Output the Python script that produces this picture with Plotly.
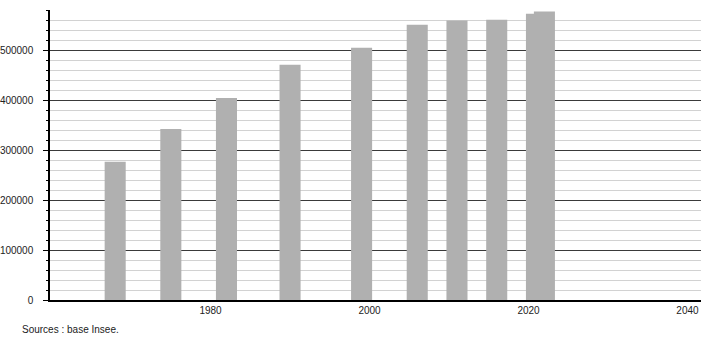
import plotly.graph_objects as go

years = [1968, 1975, 1982, 1990, 1999, 2006, 2011, 2016, 2021, 2022]
population = [276600, 342000, 404000, 470600, 504600, 550600, 559200, 560600, 572600, 577200]
x_ticks = [1980, 2000, 2020, 2040]
y_ticks = [0, 100000, 200000, 300000, 400000, 500000]
source_text = "Sources : base Insee."

FONT = "Liberation Sans, Arial, sans-serif"

fig = go.Figure()
for yr, val in zip(years, population):
    fig.add_trace(go.Bar(x=[yr], y=[val], width=2.65, marker=dict(color="#b0b0b0", line=dict(width=0)),
                         showlegend=False, hoverinfo="skip"))

fig.update_layout(
    width=710, height=340,
    margin=dict(l=50, r=9, t=10, b=40),
    paper_bgcolor="white", plot_bgcolor="white",
    barmode="overlay",
    font=dict(family=FONT, size=10, color="#222"),
    xaxis=dict(range=[1959.8, 2041.7], tickvals=x_ticks, ticktext=[str(t) for t in x_ticks],
               showgrid=False, zeroline=False, showline=True, linecolor="black", linewidth=1.5,
               ticks="", automargin=False, tickfont=dict(size=10, color="#222")),
    yaxis=dict(range=[0, 580000], tickvals=y_ticks, ticktext=[str(t) for t in y_ticks],
               showgrid=True, gridcolor="#3a3a3a", gridwidth=1,
               zeroline=False, showline=True, linecolor="black", linewidth=1.5,
               ticks="outside", ticklen=5, tickcolor="black", tickwidth=1,
               ticklabelstandoff=8, automargin=False,
               minor=dict(dtick=20000, tick0=0, showgrid=True, gridcolor="#d2d2d2", gridwidth=1,
                          ticks="outside", ticklen=2, tickcolor="black")),
    annotations=[dict(text=source_text, showarrow=False, font=dict(size=10, color="#222"))],
)
pw = 710 - 50 - 9
ph = 340 - 10 - 40
fig.layout.annotations[0].update(x=(20 - 50) / pw, y=(300 - 329) / ph, xref="paper", yref="paper",
                                 xanchor="left", yanchor="middle")

fig.write_html("out.html")
